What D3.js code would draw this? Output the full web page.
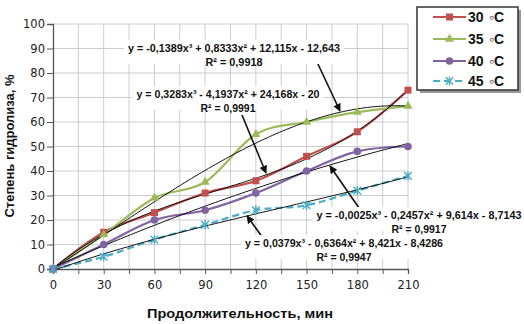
<!DOCTYPE html>
<html><head><meta charset="utf-8">
<script src="https://cdn.jsdelivr.net/npm/d3@7"></script>
<style>body{margin:0;background:#fff}svg{display:block}</style>
</head><body><svg id="c" width="524" height="324"></svg>
<script>
const categories = [0, 30, 60, 90, 120, 150, 180, 210];
const seriesNames = ["30", "35", "40", "45"];
const unitLabel = "◦C";
const s30 = [0, 15, 23, 31, 36, 46, 56, 73];
const s35 = [0, 14, 29, 35.5, 55, 60, 64, 66.5];
const s40 = [0, 10, 20, 24, 31, 40, 48, 50];
const s45 = [0, 5, 12, 18, 24, 26, 32, 38];
const trend30 = [0.3283, -4.1937, 24.168, -20];
const trend35 = [-0.1389, 0.8333, 12.115, -12.643];
const trend40 = [-0.0025, -0.2457, 9.614, -8.7143];
const trend45 = [0.0379, -0.6364, 8.421, -8.4286];
const label30 = ["y = 0,3283x³ - 4,1937x² + 24,168x - 20", "R² = 0,9991"];
const label35 = ["y = -0,1389x³ + 0,8333x² + 12,115x - 12,643", "R² = 0,9918"];
const label40 = ["y = -0,0025x³ - 0,2457x² + 9,614x - 8,7143", "R² = 0,9917"];
const label45 = ["y = 0,0379x³ - 0,6364x² + 8,421x - 8,4286", "R² = 0,9947"];
const xTicks = [0, 30, 60, 90, 120, 150, 180, 210];
const yTicks = [0, 10, 20, 30, 40, 50, 60, 70, 80, 90, 100];
const xTitle = "Продолжительность, мин";
const yTitle = "Степень гидролиза, %";

const svg = d3.select("#c");
const x = d3.scaleLinear().domain([0, 210]).range([53, 408]);
const y = d3.scaleLinear().domain([0, 100]).range([269, 24]);

// gridlines
const g = svg.append("g");
g.selectAll("line.v").data(d3.range(15, 211, 15)).join("line")
  .attr("x1", d => x(d)).attr("x2", d => x(d)).attr("y1", y(0)).attr("y2", y(100))
  .attr("stroke", "#cccccc").attr("stroke-width", 1);
g.selectAll("line.h").data(yTicks.slice(1)).join("line")
  .attr("x1", x(0)).attr("x2", x(210)).attr("y1", d => y(d)).attr("y2", d => y(d))
  .attr("stroke", "#cccccc").attr("stroke-width", 1);

// axes
const xAxis = d3.axisBottom(x).tickValues(d3.range(0, 211, 15)).tickSize(5)
  .tickFormat(d => xTicks.includes(d) ? d : "");
const gx = svg.append("g").attr("transform", `translate(0,${y(0)})`).call(xAxis);
gx.select(".domain").attr("stroke", "#555").attr("stroke-width", 1.3);
gx.selectAll(".tick line").attr("stroke", "#555");
gx.selectAll("text").attr("font-family", "DejaVu Sans").attr("font-size", 11.5).attr("fill", "#222").attr("dy", "1.05em");

const yAxis = d3.axisLeft(y).tickValues(yTicks).tickSize(6);
const gy = svg.append("g").attr("transform", `translate(${x(0)},0)`).call(yAxis);
gy.select(".domain").attr("stroke", "#555").attr("stroke-width", 1.3);
gy.selectAll(".tick line").attr("stroke", "#555");
gy.selectAll("text").attr("font-family", "DejaVu Sans").attr("font-size", 11.5).attr("fill", "#222").attr("x", -8);

// series
const series = [
  {vals: s30, color: "#c0504d", marker: "square", dash: null},
  {vals: s35, color: "#9bbb59", marker: "triangle", dash: null},
  {vals: s40, color: "#8064a2", marker: "circle", dash: null},
  {vals: s45, color: "#4bacc6", marker: "star", dash: "7,4"}
];
const line = d3.line().x((d, i) => x(categories[i])).y(d => y(d)).curve(d3.curveCardinal.tension(0));
series.forEach(s => {
  svg.append("path").attr("d", line(s.vals)).attr("fill", "none")
    .attr("stroke", s.color).attr("stroke-width", 2.2)
    .attr("stroke-dasharray", s.dash);
});

// trendlines
const trends = [trend30, trend35, trend40, trend45];
const tLine = d3.line().x(d => x(d[0])).y(d => y(d[1]));
trends.forEach(c => {
  const pts = d3.range(0, 210.01, 2).map(t => {
    const k = t / 30 + 1;
    return [t, c[0]*k*k*k + c[1]*k*k + c[2]*k + c[3]];
  });
  svg.append("path").attr("d", tLine(pts)).attr("fill", "none")
    .attr("stroke", "#111").attr("stroke-width", 1);
});

// markers
function drawMarker(sel, type, color, cx, cy) {
  if (type === "square") {
    sel.append("rect").attr("x", cx - 3.5).attr("y", cy - 3.5).attr("width", 7).attr("height", 7).attr("fill", color);
  } else if (type === "triangle") {
    sel.append("path").attr("d", d3.symbol(d3.symbolTriangle, 36)()).attr("transform", `translate(${cx},${cy})`).attr("fill", color);
  } else if (type === "circle") {
    sel.append("circle").attr("cx", cx).attr("cy", cy).attr("r", 3.8).attr("fill", color);
  } else {
    const r = 3.8;
    sel.append("path").attr("d", `M${cx-r},${cy-r}L${cx+r},${cy+r}M${cx-r},${cy+r}L${cx+r},${cy-r}M${cx},${cy-r-0.8}L${cx},${cy+r+0.8}`)
      .attr("stroke", color).attr("stroke-width", 1.4).attr("fill", "none");
  }
}
series.forEach(s => {
  s.vals.forEach((v, i) => drawMarker(svg, s.marker, s.color, x(categories[i]), y(v)));
});

// trendline labels with arrows
const defs = svg.append("defs");
defs.append("marker").attr("id", "ah").attr("viewBox", "0 0 10 10").attr("refX", 9).attr("refY", 5)
  .attr("markerWidth", 5).attr("markerHeight", 5).attr("orient", "auto")
  .append("path").attr("d", "M0,0L10,5L0,10Z").attr("fill", "#111");

const labels = [
  {text: label35, cx: 234, cy: 48, w1: 212, w2: 57, arrow: [317, 62, 340, 111]},
  {text: label30, cx: 228, cy: 94, w1: 183, w2: 55, arrow: [242, 115, 266, 173]},
  {text: label40, cx: 419, cy: 215, w1: 205, w2: 55, arrow: [359, 208, 330, 166]},
  {text: label45, cx: 344, cy: 243, w1: 198, w2: 55, arrow: [263, 238, 247, 216]}
];
labels.forEach(L => {
  svg.append("line").attr("x1", L.arrow[0]).attr("y1", L.arrow[1]).attr("x2", L.arrow[2]).attr("y2", L.arrow[3])
    .attr("stroke", "#111").attr("stroke-width", 1.6).attr("marker-end", "url(#ah)");
  svg.append("rect").attr("x", L.cx - L.w1/2 - 4).attr("y", L.cy - 8).attr("width", L.w1 + 8).attr("height", 24).attr("fill", "#fff");
  [0, 1].forEach(j => {
    svg.append("text").attr("x", L.cx).attr("y", L.cy + j*14 + 3.6)
      .attr("text-anchor", "middle").attr("font-family", "Liberation Sans").attr("font-weight", "bold")
      .attr("font-size", 10.5).attr("fill", "#111")
      .attr("textLength", j === 0 ? L.w1 : L.w2).attr("lengthAdjust", "spacingAndGlyphs")
      .text(L.text[j]);
  });
});

// axis titles
svg.append("text").attr("x", 240).attr("y", 318).attr("text-anchor", "middle")
  .attr("font-family", "Liberation Sans").attr("font-weight", "bold").attr("font-size", 13.5).attr("fill", "#111")
  .attr("textLength", 186).attr("lengthAdjust", "spacingAndGlyphs").text(xTitle);
svg.append("text").attr("transform", "translate(14,146) rotate(-90)").attr("text-anchor", "middle")
  .attr("font-family", "Liberation Sans").attr("font-weight", "bold").attr("font-size", 13.5).attr("fill", "#111")
  .attr("textLength", 143).attr("lengthAdjust", "spacingAndGlyphs").text(yTitle);

// legend
const lg = svg.append("g");
lg.append("rect").attr("x", 420).attr("y", 10).attr("width", 101).attr("height", 83).attr("fill", "#999");
lg.append("rect").attr("x", 417).attr("y", 7).attr("width", 101).attr("height", 83).attr("fill", "#fff")
  .attr("stroke", "#333").attr("stroke-width", 1.5);
series.forEach((s, i) => {
  const ly = [17, 39, 61, 81][i];
  lg.append("line").attr("x1", 433).attr("x2", 466).attr("y1", ly).attr("y2", ly)
    .attr("stroke", s.color).attr("stroke-width", 2.2).attr("stroke-dasharray", s.dash);
  drawMarker(lg, s.marker, s.color, 449.5, ly);
  lg.append("text").attr("x", 468).attr("y", ly + 5).attr("font-family", "Liberation Sans").attr("font-weight", "bold")
    .attr("font-size", 14).attr("fill", "#111").text(seriesNames[i]);
  lg.append("text").attr("x", 489).attr("y", ly + 5).attr("font-family", "Liberation Sans").attr("font-weight", "bold")
    .attr("font-size", 14).attr("fill", "#111").text(unitLabel);
});
</script></body></html>
